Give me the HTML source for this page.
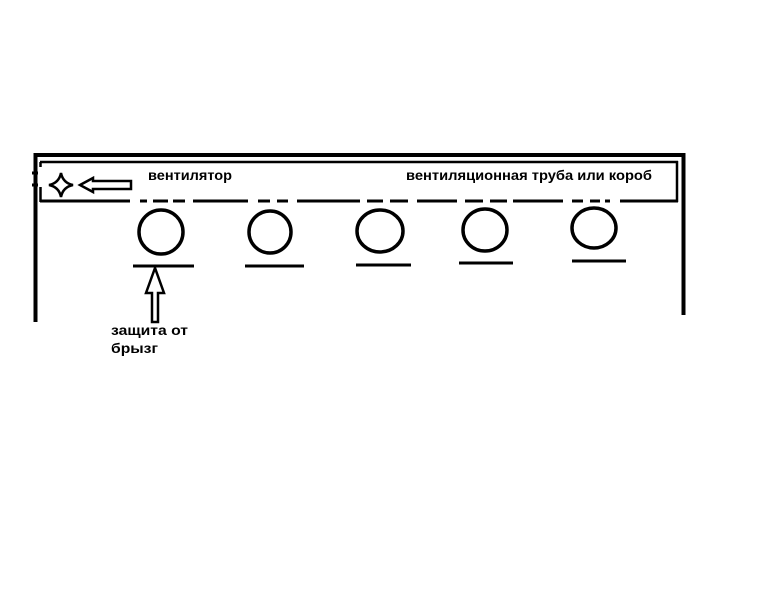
<!DOCTYPE html>
<html><head><meta charset="utf-8"><style>
body{margin:0;background:#fff;}
svg{display:block}
text{font-family:"Liberation Sans","DejaVu Sans",sans-serif;font-weight:bold;font-size:14px;fill:#000}
</style></head><body>
<svg width="768" height="614" viewBox="0 0 768 614" xmlns="http://www.w3.org/2000/svg">
<g stroke="#000" fill="none" stroke-linecap="butt">
<line x1="34" y1="155" x2="685" y2="155" stroke-width="4"/>
<line x1="35.5" y1="153" x2="35.5" y2="322" stroke-width="4"/>
<line x1="683.5" y1="153" x2="683.5" y2="315" stroke-width="4"/>
<line x1="40" y1="162" x2="678" y2="162" stroke-width="2.5"/>
<line x1="677" y1="161" x2="677" y2="202" stroke-width="2.5"/>
<line x1="40.5" y1="162" x2="40.5" y2="167" stroke-width="2.5"/>
<line x1="40.5" y1="187" x2="40.5" y2="202" stroke-width="2.5"/>
<line x1="32" y1="173" x2="38" y2="173" stroke-width="3"/>
<line x1="32" y1="185" x2="38" y2="185" stroke-width="3"/>
<path stroke-width="3" d="M40,201H130 M140,201H147 M153,201H168 M173,201H185 M193,201H248 M258,201H270 M277,201H288 M297,201H360 M367,201H383 M390,201H408 M417,201H457 M465,201H483 M490,201H507 M513,201H563 M572,201H583 M590,201H600 M605,201H610 M620,201H678"/>
<ellipse cx="161" cy="232" rx="22" ry="22" stroke-width="3.5"/>
<ellipse cx="270" cy="232" rx="21" ry="21" stroke-width="3.5"/>
<ellipse cx="380" cy="231" rx="23" ry="21" stroke-width="3.5"/>
<ellipse cx="485" cy="230" rx="22" ry="21" stroke-width="3.5"/>
<ellipse cx="594" cy="228" rx="22" ry="20" stroke-width="3.5"/>
<line x1="133" y1="266" x2="194" y2="266" stroke-width="3"/>
<line x1="245" y1="266" x2="304" y2="266" stroke-width="3"/>
<line x1="356" y1="265" x2="411" y2="265" stroke-width="3"/>
<line x1="459" y1="263" x2="513" y2="263" stroke-width="3"/>
<line x1="572" y1="261" x2="626" y2="261" stroke-width="3"/>
<path d="M155,268 L146,293 L152,293 L152,322 L158,322 L158,293 L164,293 Z" stroke-width="2.5"/>
<path d="M80,185 L93,178 L93,181 L131,181 L131,189 L93,189 L93,192 Z" stroke-width="2.5"/>
<path d="M61,173 Q63,183 73,185 Q63,187 61,197 Q59,187 49,185 Q59,183 61,173 Z" stroke-width="2.5"/>
</g>
<text x="148" y="180" textLength="84" lengthAdjust="spacingAndGlyphs">вентилятор</text>
<text x="406" y="180" textLength="246" lengthAdjust="spacingAndGlyphs">вентиляционная труба или короб</text>
<text x="111" y="335" textLength="77" lengthAdjust="spacingAndGlyphs">защита от</text>
<text x="111" y="353" textLength="47" lengthAdjust="spacingAndGlyphs">брызг</text>
</svg>
</body></html>
